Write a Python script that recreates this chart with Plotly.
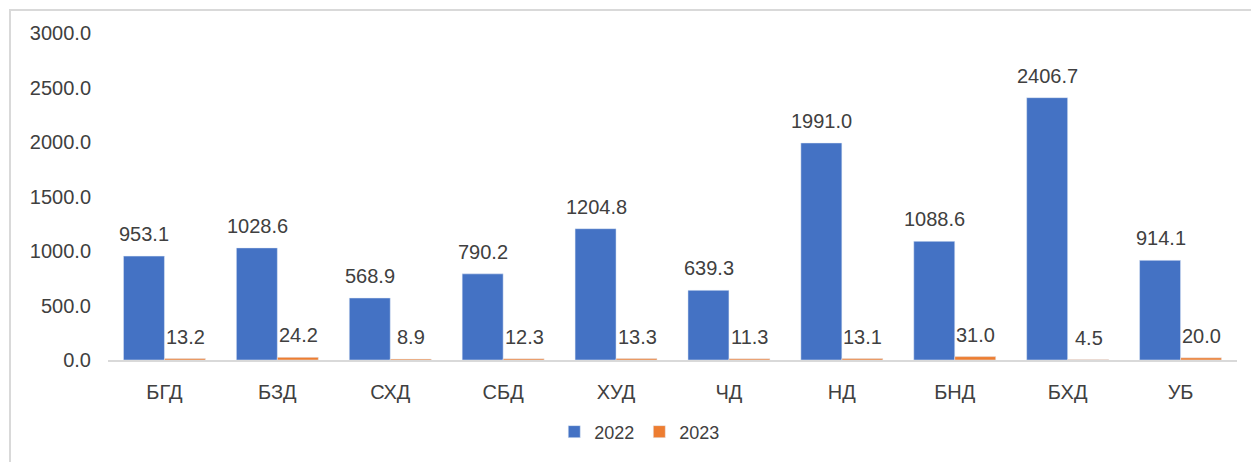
import plotly.graph_objects as go

categories = ["БГД", "БЗД", "СХД", "СБД", "ХУД", "ЧД", "НД", "БНД", "БХД", "УБ"]
values_2022 = [953.1, 1028.6, 568.9, 790.2, 1204.8, 639.3, 1991.0, 1088.6, 2406.7, 914.1]
values_2023 = [13.2, 24.2, 8.9, 12.3, 13.3, 11.3, 13.1, 31.0, 4.5, 20.0]

text_color = "#404040"
font_family = "Liberation Sans, Arial, sans-serif"

fig = go.Figure()
fig.add_trace(go.Bar(name="2022", x=categories, y=values_2022, marker_color="#4472C4"))
fig.add_trace(go.Bar(name="2023", x=categories, y=values_2023, marker_color="#ED7D31"))

# value labels above each bar (offset left/right to sit over its own bar)
for vals, shift in [(values_2022, -20), (values_2023, 21)]:
    for c, v in zip(categories, vals):
        fig.add_annotation(
            x=c, y=v, text=f"{v:.1f}", showarrow=False,
            xshift=shift, yshift=22, yanchor="middle",
            font=dict(size=20, color=text_color, family=font_family),
        )

# light frame around the whole chart (kept just inside the figure edge)
fig.add_shape(
    type="rect", xref="paper", yref="paper",
    x0=-0.0868, x1=1.05, y0=-0.36, y1=1.0703,
    line=dict(color="#d9d9d9", width=2), layer="below",
)

# page body has an 8px margin, so pull the plot area back by that much
fig.update_layout(
    width=1259, height=462,
    margin=dict(l=100, r=30, t=25, b=110),
    barmode="group", bargap=0.274, bargroupgap=0,
    plot_bgcolor="white", paper_bgcolor="white",
    font=dict(family=font_family, size=20, color=text_color),
    legend=dict(
        orientation="h", x=0.471, xanchor="center", y=-0.22, yanchor="middle",
        font=dict(size=18, color=text_color),
    ),
    showlegend=True,
)
fig.update_xaxes(
    showgrid=False, showline=True, linecolor="#d9d9d9", linewidth=2,
    ticks="", ticklabelstandoff=13, tickfont=dict(size=20, color=text_color),
)
fig.update_yaxes(
    range=[0, 3000], dtick=500, tickformat=".1f", showgrid=False,
    zeroline=False, showline=False, ticks="", ticklabelstandoff=16,
    tickfont=dict(size=20, color=text_color),
)

fig.write_html("out.html")
